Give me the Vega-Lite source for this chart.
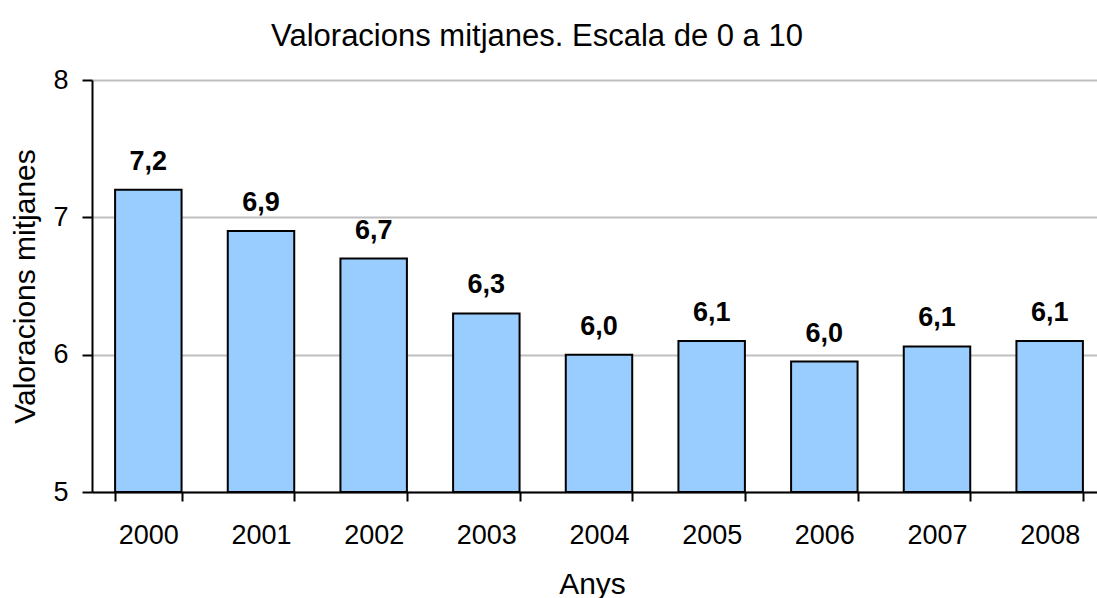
{
  "$schema": "https://vega.github.io/schema/vega-lite/v6.json",
  "autosize": {"type": "none"},
  "padding": {"left": 92, "top": 80, "right": 0, "bottom": 106},
  "width": 1014,
  "height": 412,
  "background": "white",
  "title": {"text": "Valoracions mitjanes. Escala de 0 a 10", "dx": -62, "offset": -11, "baseline": "alphabetic", "fontSize": 31, "fontWeight": "normal", "font": "Liberation Sans", "color": "black"},
  "data": {"values": [
    {"any": "2000", "valor": 7.2},
    {"any": "2001", "valor": 6.9},
    {"any": "2002", "valor": 6.7},
    {"any": "2003", "valor": 6.3},
    {"any": "2004", "valor": 6.0},
    {"any": "2005", "valor": 6.1},
    {"any": "2006", "valor": 5.95},
    {"any": "2007", "valor": 6.06},
    {"any": "2008", "valor": 6.1}
  ]},
  "encoding": {
    "x": {"field": "any", "type": "ordinal", "scale": {"paddingInner": 0.41, "paddingOuter": 0.205},
      "axis": {"title": "Anys", "labelAngle": 0, "tickBand": "extent", "tickSize": 9, "tickWidth": 2, "tickColor": "black", "domainColor": "black", "domainWidth": 2, "labelBaseline": "alphabetic", "labelPadding": 42, "labelFontSize": 27, "titleFontSize": 30, "titleFontWeight": "normal", "titleX": 500, "titleY": 101, "titleBaseline": "alphabetic", "grid": false}},
    "y": {"field": "valor", "type": "quantitative", "scale": {"domain": [5, 8], "nice": false, "zero": false},
      "axis": {"title": "Valoracions mitjanes", "values": [5, 6, 7, 8], "format": "d", "tickSize": 10, "tickWidth": 2, "tickColor": "black", "domainColor": "black", "domainWidth": 2, "labelPadding": 14, "labelFontSize": 27, "titleFontSize": 30, "titleFontWeight": "normal", "titleX": -67, "titleY": 206, "titleAngle": 270, "titleAlign": "center", "titleBaseline": "middle", "grid": true, "gridColor": "#bfbfbf", "gridWidth": 2}}
  },
  "layer": [
    {"mark": {"type": "bar", "fill": "#99ccff", "stroke": "black", "strokeWidth": 2},
     "encoding": {"y2": {"datum": 5}}},
    {"mark": {"type": "text", "baseline": "alphabetic", "dy": -20, "fontSize": 27, "fontWeight": "bold", "font": "Liberation Sans", "color": "black"},
     "encoding": {"text": {"field": "valor", "type": "quantitative", "format": ".1f"}}}
  ],
  "config": {
    "locale": {"number": {"decimal": ",", "thousands": ".", "grouping": [3], "currency": ["", " €"]}},
    "font": "Liberation Sans",
    "axis": {"labelColor": "black", "titleColor": "black", "labelFont": "Liberation Sans", "titleFont": "Liberation Sans"},
    "view": {"stroke": null}
  }
}
